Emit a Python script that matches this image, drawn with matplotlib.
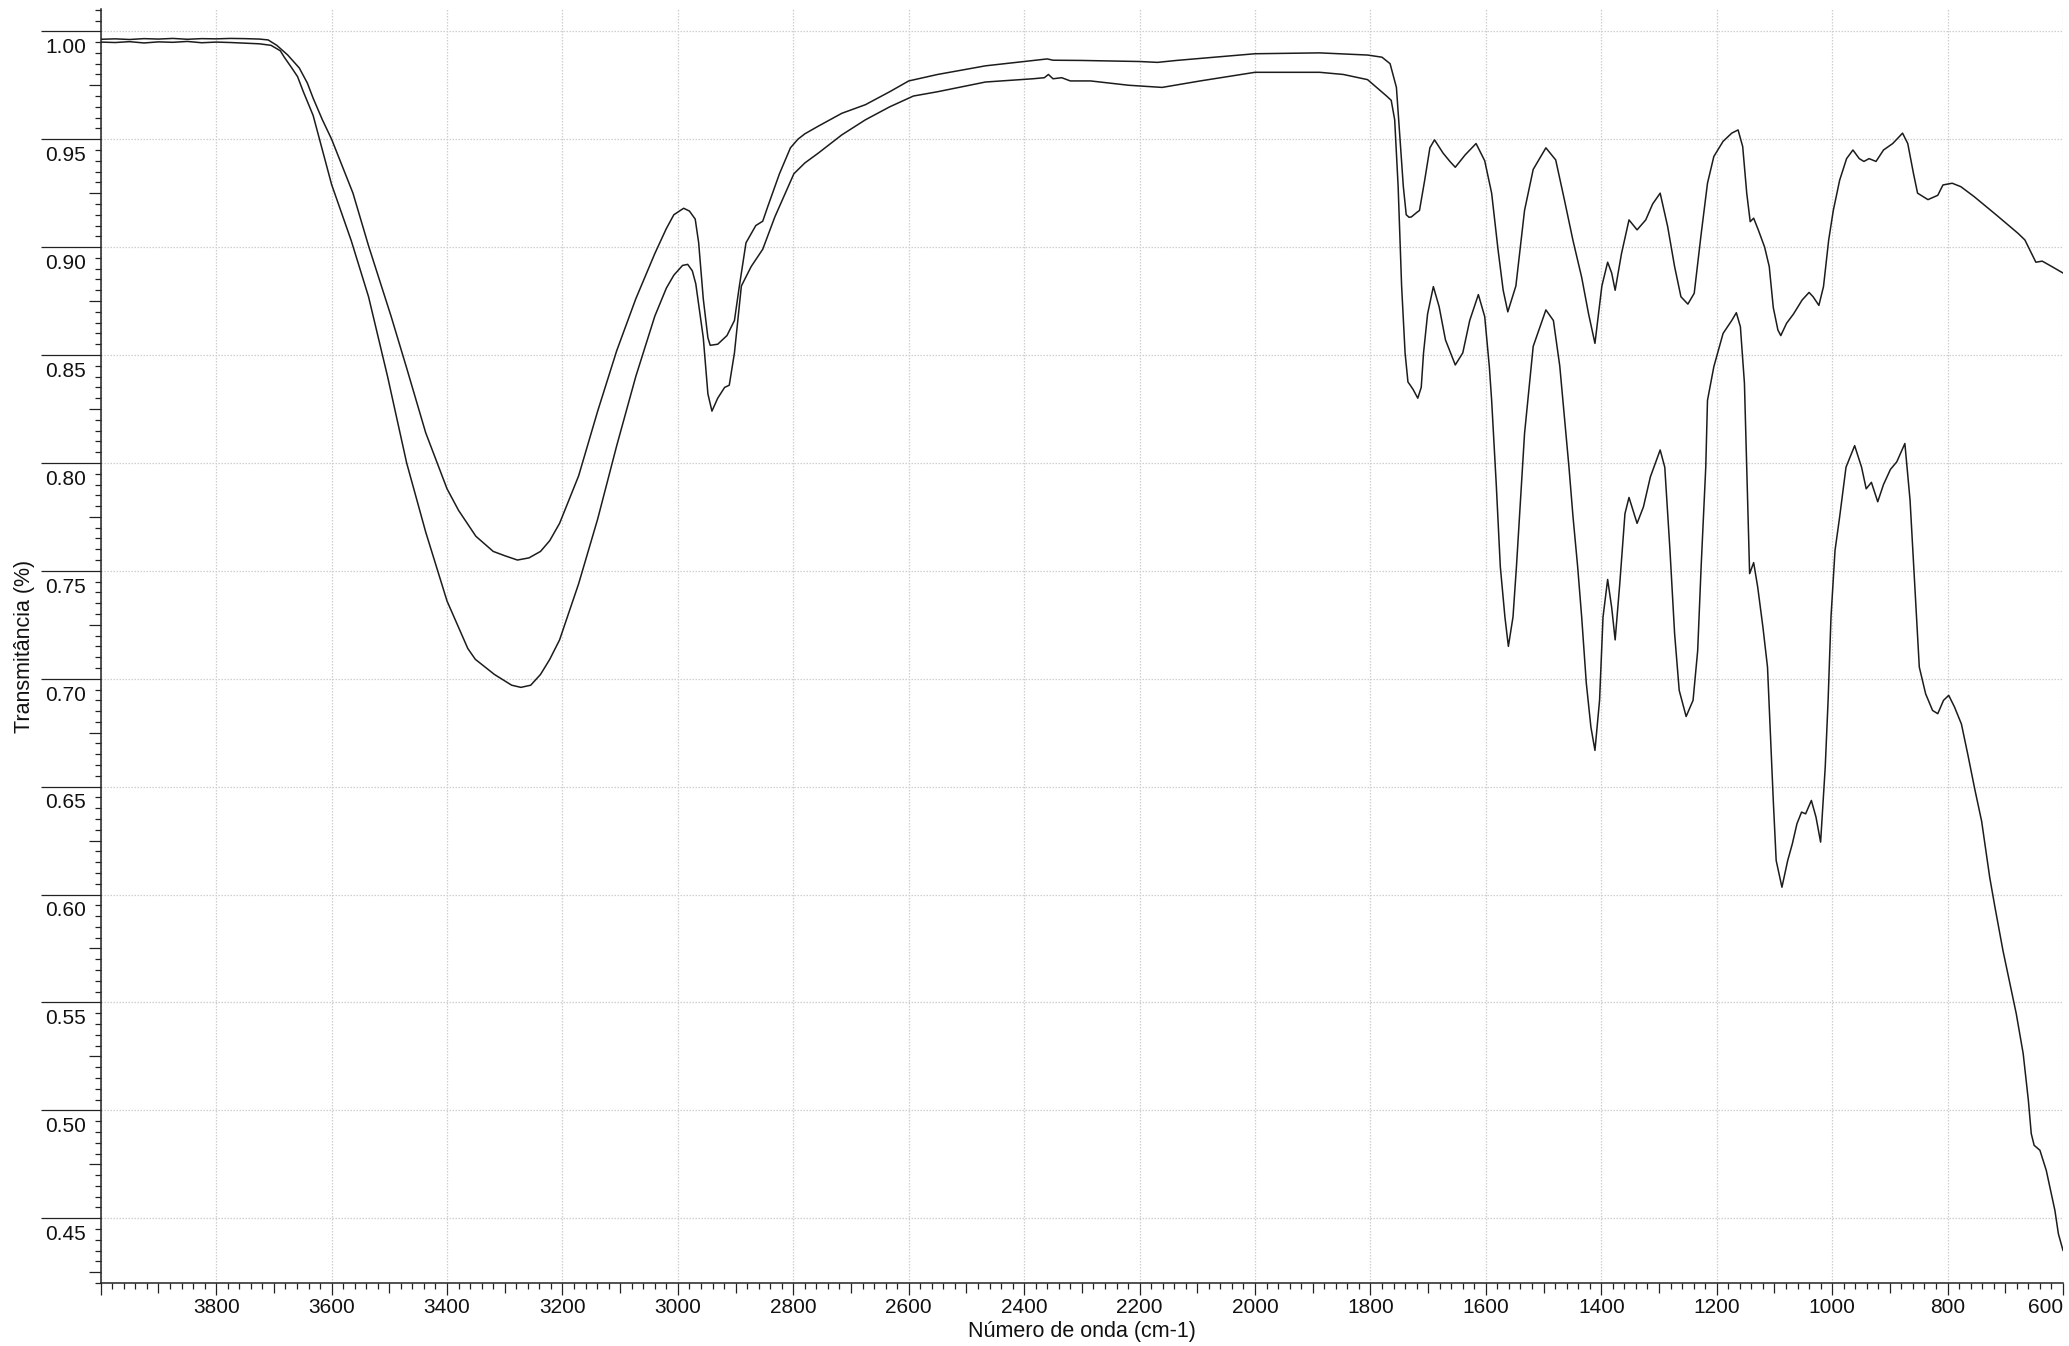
import numpy as np
import matplotlib
matplotlib.use('Agg')
import matplotlib.pyplot as plt
from matplotlib.ticker import FixedLocator, FormatStrFormatter
from matplotlib.transforms import ScaledTranslation

plt.rcParams['font.family'] = ['Liberation Sans', 'DejaVu Sans']

# upper spectrum (higher transmittance)
wavenumber_a = [4000, 3975, 3950, 3925, 3900, 3875, 3850, 3825, 3800, 3775, 3750, 3725, 3710,
                3695, 3676, 3656, 3642, 3632, 3616, 3600, 3563, 3536, 3497, 3470, 3437, 3400,
                3380, 3350, 3320, 3300, 3278, 3258, 3238, 3222, 3205, 3172, 3139, 3106, 3073,
                3040, 3020, 3007, 2990, 2980, 2970, 2964, 2956, 2948, 2944, 2931, 2915, 2902,
                2894, 2882, 2865, 2853, 2844, 2824, 2805, 2792, 2780, 2757, 2716, 2675, 2633,
                2600, 2550, 2467, 2400, 2360, 2350, 2302, 2200, 2169, 2136, 2070, 2000, 1888,
                1805, 1780, 1766, 1755, 1749, 1743, 1738, 1733, 1729, 1720, 1715, 1706, 1697,
                1689, 1674, 1662, 1653, 1636, 1617, 1602, 1590, 1579, 1570, 1562, 1548, 1533,
                1518, 1496, 1479, 1464, 1449, 1434, 1422, 1411, 1399, 1389, 1382, 1376, 1365,
                1352, 1338, 1323, 1311, 1298, 1285, 1273, 1262, 1250, 1239, 1227, 1216, 1205,
                1189, 1174, 1163, 1155, 1148, 1142, 1136, 1128, 1117, 1109, 1102, 1094, 1089,
                1079, 1067, 1052, 1040, 1033, 1023, 1015, 1006, 998, 987, 975, 964, 953, 945,
                936, 924, 911, 895, 878, 869, 859, 852, 834, 817, 808, 792, 777, 754, 716, 678,
                666, 647, 636, 624, 600]
transmit_a = [0.9963, 0.9965, 0.9962, 0.9966, 0.9964, 0.9967, 0.9963, 0.9966, 0.9965, 0.9967,
              0.9966, 0.9964, 0.9960, 0.9935, 0.989, 0.983, 0.976, 0.969, 0.959, 0.950, 0.925,
              0.9006, 0.868, 0.844, 0.814, 0.788, 0.778, 0.766, 0.759, 0.757, 0.755, 0.756,
              0.759, 0.764, 0.772, 0.794, 0.824, 0.852, 0.876, 0.897, 0.9086, 0.915, 0.918,
              0.9167, 0.913, 0.902, 0.876, 0.858, 0.8545, 0.855, 0.859, 0.866, 0.881, 0.902,
              0.910, 0.912, 0.919, 0.934, 0.946, 0.950, 0.9525, 0.956, 0.962, 0.966, 0.972,
              0.977, 0.980, 0.984, 0.986, 0.9872, 0.9866, 0.9865, 0.986, 0.9856, 0.9865, 0.988,
              0.9896, 0.990, 0.989, 0.988, 0.985, 0.974, 0.951, 0.928, 0.915, 0.9138, 0.914,
              0.916, 0.917, 0.931, 0.946, 0.9497, 0.9435, 0.9396, 0.937, 0.9427, 0.948, 0.940,
              0.925, 0.899, 0.880, 0.870, 0.882, 0.917, 0.936, 0.946, 0.9404, 0.922, 0.903,
              0.886, 0.869, 0.8554, 0.882, 0.893, 0.888, 0.880, 0.897, 0.9126, 0.908, 0.9126,
              0.920, 0.925, 0.9095, 0.891, 0.877, 0.8736, 0.8786, 0.906, 0.9296, 0.942, 0.949,
              0.9528, 0.9543, 0.9466, 0.925, 0.9118, 0.9134, 0.908, 0.900, 0.891, 0.872,
              0.8616, 0.859, 0.8647, 0.869, 0.8755, 0.879, 0.877, 0.873, 0.8817, 0.9033, 0.917,
              0.931, 0.941, 0.945, 0.941, 0.9397, 0.941, 0.9397, 0.945, 0.948, 0.9528, 0.948,
              0.934, 0.925, 0.922, 0.924, 0.9288, 0.9296, 0.928, 0.9234, 0.915, 0.9064, 0.9033,
              0.893, 0.8935, 0.8917, 0.888]

# lower spectrum
wavenumber_b = [4000, 3975, 3950, 3925, 3900, 3875, 3850, 3825, 3800, 3775, 3750, 3725, 3705,
                3689, 3682, 3669, 3659, 3649, 3632, 3616, 3600, 3566, 3536, 3503, 3470, 3437,
                3400, 3364, 3351, 3318, 3288, 3272, 3255, 3238, 3222, 3205, 3172, 3139, 3106,
                3073, 3040, 3020, 3007, 2992, 2983, 2975, 2969, 2956, 2948, 2941, 2931, 2919,
                2911, 2902, 2890, 2873, 2853, 2832, 2799, 2780, 2757, 2716, 2675, 2633, 2592,
                2550, 2467, 2385, 2365, 2358, 2350, 2335, 2320, 2285, 2219, 2161, 2095, 2000,
                1888, 1847, 1805, 1772, 1764, 1758, 1752, 1746, 1740, 1735, 1731, 1726, 1718,
                1712, 1708, 1701, 1691, 1681, 1670, 1653, 1640, 1628, 1613, 1602, 1594, 1590,
                1582, 1575, 1567, 1561, 1553, 1547, 1540, 1533, 1518, 1496, 1483, 1472, 1464,
                1456, 1449, 1441, 1434, 1426, 1418, 1411, 1403, 1397, 1389, 1382, 1376, 1368,
                1359, 1352, 1338, 1327, 1315, 1298, 1290, 1281, 1273, 1265, 1253, 1241, 1233,
                1227, 1219, 1216, 1205, 1189, 1174, 1166, 1159, 1152, 1148, 1143, 1136, 1129,
                1120, 1112, 1107, 1102, 1097, 1087, 1077, 1069, 1061, 1053, 1046, 1036, 1028,
                1020, 1012, 1007, 1002, 995, 987, 976, 961, 949, 941, 932, 921, 911, 899, 888,
                874, 865, 857, 849, 838, 826, 817, 807, 798, 788, 776, 765, 753, 741, 727, 718,
                704, 692, 681, 669, 660, 655, 650, 640, 629, 614, 608, 600]
transmit_b = [0.9950, 0.9948, 0.9952, 0.9946, 0.9951, 0.9949, 0.9953, 0.9947, 0.9950, 0.9948,
              0.9945, 0.9942, 0.9935, 0.991, 0.988, 0.983, 0.979, 0.972, 0.961, 0.945, 0.929,
              0.903, 0.877, 0.840, 0.800, 0.768, 0.736, 0.714, 0.709, 0.702, 0.697, 0.696,
              0.697, 0.702, 0.709, 0.718, 0.744, 0.774, 0.808, 0.840, 0.868, 0.881, 0.887,
              0.8915, 0.892, 0.889, 0.883, 0.858, 0.832, 0.824, 0.830, 0.835, 0.836, 0.851,
              0.882, 0.891, 0.899, 0.914, 0.934, 0.939, 0.9435, 0.952, 0.959, 0.965, 0.970,
              0.972, 0.9765, 0.978, 0.9785, 0.980, 0.978, 0.9785, 0.977, 0.977, 0.975, 0.974,
              0.977, 0.981, 0.981, 0.980, 0.9776, 0.970, 0.968, 0.959, 0.928, 0.882, 0.851,
              0.8375, 0.836, 0.834, 0.830, 0.835, 0.851, 0.869, 0.8817, 0.8724, 0.857, 0.8454,
              0.851, 0.866, 0.878, 0.8678, 0.8446, 0.829, 0.790, 0.752, 0.7286, 0.715, 0.7286,
              0.752, 0.7827, 0.8136, 0.854, 0.8709, 0.866, 0.845, 0.8214, 0.798, 0.775, 0.752,
              0.7286, 0.698, 0.6776, 0.6668, 0.690, 0.7286, 0.746, 0.733, 0.718, 0.744, 0.7765,
              0.784, 0.772, 0.7796, 0.7935, 0.806, 0.798, 0.7595, 0.721, 0.6946, 0.6825, 0.690,
              0.713, 0.752, 0.798, 0.829, 0.8446, 0.860, 0.866, 0.8696, 0.8631, 0.837, 0.798,
              0.7487, 0.7538, 0.7425, 0.724, 0.7054, 0.6745, 0.6436, 0.6158, 0.6034, 0.6158,
              0.6235, 0.6328, 0.6382, 0.6374, 0.6436, 0.6359, 0.6243, 0.659, 0.690, 0.7286,
              0.7595, 0.775, 0.798, 0.808, 0.798, 0.788, 0.791, 0.782, 0.790, 0.797, 0.8005,
              0.809, 0.7827, 0.744, 0.7054, 0.693, 0.6853, 0.6838, 0.690, 0.6923, 0.6869, 0.679,
              0.665, 0.649, 0.634, 0.608, 0.5943, 0.574, 0.5587, 0.5448, 0.5263, 0.5046, 0.4892,
              0.4838, 0.4815, 0.4722, 0.4536, 0.4428, 0.4351]

x_major = list(range(600, 4001, 200))
x_labels = [str(v) if v < 4000 else '' for v in x_major]
y_major = [round(0.45 + 0.05 * i, 2) for i in range(12)]

DPI = 100
PT = 72.0 / DPI   # points per pixel

fig = plt.figure(figsize=(20.69, 13.46), dpi=DPI)
ax = fig.add_axes([0.0487, 0.0468, 0.9484, 0.9463])

line_color = '#1c1c1c'
ax.plot(wavenumber_a, transmit_a, color=line_color, linewidth=1.1)
ax.plot(wavenumber_b, transmit_b, color=line_color, linewidth=1.1)

ax.set_xlim(4000, 600)
ax.set_ylim(0.42, 1.0102)

for side in ['top', 'right']:
    ax.spines[side].set_visible(False)
for side in ['left', 'bottom']:
    ax.spines[side].set_color('#222222')
    ax.spines[side].set_linewidth(1.1)

ax.set_xticks(x_major)
ax.set_xticklabels(x_labels)
ax.set_yticks(y_major)
ax.yaxis.set_major_formatter(FormatStrFormatter('%.2f'))

x_minor = [v for v in range(600, 4001, 20) if v % 200 != 0]
y_minor = [round(v * 0.005, 3) for v in range(84, 203) if v % 10 != 0]
ax.xaxis.set_minor_locator(FixedLocator(x_minor))
ax.yaxis.set_minor_locator(FixedLocator(y_minor))

ax.grid(which='major', color='#cfcfcf', linestyle=(0, (1.2, 1.2)), linewidth=0.9)
ax.set_axisbelow(True)

ax.tick_params(axis='both', which='both', direction='out', color='#222222',
               width=0.9, labelsize=15, labelcolor='#111111')
ax.tick_params(axis='x', which='major', length=12 * PT, pad=2)
ax.tick_params(axis='y', which='major', length=60 * PT, pad=-45 * PT)
ax.tick_params(axis='both', which='minor', length=6 * PT)

# medium ticks every 100 cm-1 and every 0.025
for tick, loc in zip(ax.xaxis.get_minor_ticks(len(x_minor)), x_minor):
    if loc % 100 == 0:
        tick.tick1line.set_markersize(10 * PT)
for tick, loc in zip(ax.yaxis.get_minor_ticks(len(y_minor)), y_minor):
    if round(loc * 1000) % 25 == 0:
        tick.tick1line.set_markersize(12 * PT)

# y labels sit just below their long tick
shift = ScaledTranslation(0, -14.3 / DPI, fig.dpi_scale_trans)
for lab in ax.get_yticklabels():
    lab.set_transform(lab.get_transform() + shift)

# last x label is kept inside the figure, flush with its tick
for tick, loc in zip(ax.xaxis.get_major_ticks(), x_major):
    if loc == 600:
        tick.label1.set_horizontalalignment('right')

ax.set_xlabel('Número de onda (cm-1)', fontsize=15.5, color='#111111')
ax.set_ylabel('Transmitância (%)', fontsize=15.5, color='#111111')
ax.xaxis.set_label_coords(0.5, -0.0300)
ax.yaxis.set_label_coords(-0.0337, 0.5)

fig.savefig('out.png', dpi=DPI)
